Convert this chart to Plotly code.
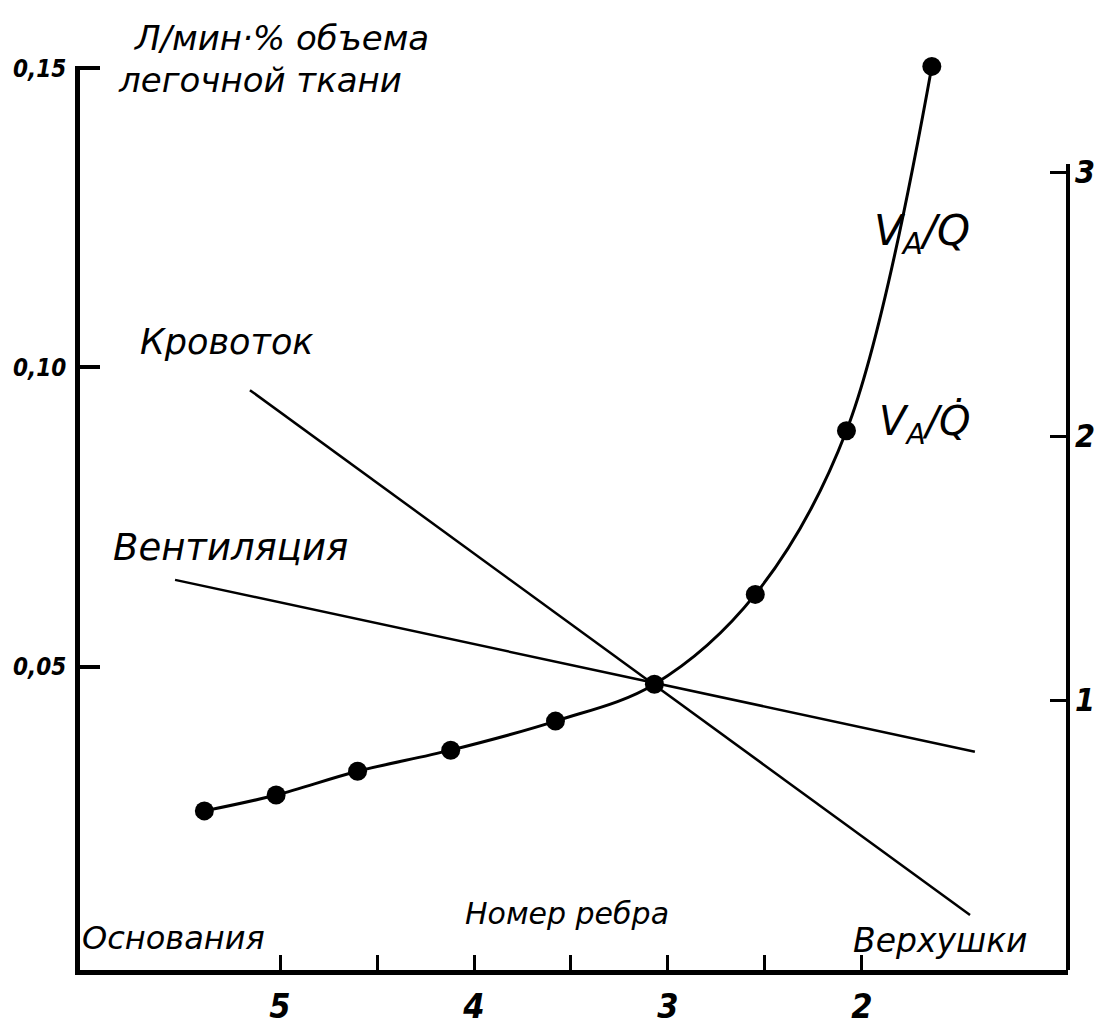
import plotly.graph_objects as go

# ---- data ----
rib_tickvals = [5, 4, 3, 2]
rib_ticktext = ["5", "4", "3", "2"]
rib_minor_tickvals = [4.5, 3.5, 2.5]

vaq_rib = [5.39, 5.02, 4.60, 4.12, 3.58, 3.07, 2.55, 2.08, 1.64]
vaq_val = [0.58, 0.64, 0.73, 0.81, 0.92, 1.06, 1.40, 2.02, 3.40]

blood_rib = [5.155, 1.443]
blood_val = [0.0962, 0.0085]

vent_rib = [5.541, 1.418]
vent_val = [0.0645, 0.0358]

left_tickvals = [0.05, 0.10, 0.15]
left_ticktext = ["0,05", "0,10", "0,15"]
right_tickvals = [1, 2, 3]
right_ticktext = ["1", "2", "3"]

# ---- layout helpers ----
W, H = 1102, 1032
ML, MR, MT, MB = 80, 34, 66, 62
PW, PH = W - ML - MR, H - MT - MB
FONT = "DejaVu Sans"
NARROW = "Liberation Sans Narrow, DejaVu Sans Condensed, DejaVu Sans"


def px(x, y):
    return (x - ML) / PW, (H - MB - y) / PH


fig = go.Figure()
fig.add_trace(go.Scatter(x=blood_rib, y=blood_val, mode="lines",
                         line=dict(color="black", width=2.5), showlegend=False))
fig.add_trace(go.Scatter(x=vent_rib, y=vent_val, mode="lines",
                         line=dict(color="black", width=2.5), showlegend=False))
fig.add_trace(go.Scatter(x=vaq_rib, y=vaq_val, mode="lines+markers", yaxis="y2",
                         line=dict(color="black", width=3, shape="spline", smoothing=1.0),
                         marker=dict(color="black", size=19), cliponaxis=False,
                         showlegend=False))

annots = [
    ("Л/мин·% объема", 131, 38, 34),
    ("легочной ткани", 116, 80, 34),
    ("Кровоток", 138, 342, 35),
    ("Вентиляция", 111, 547, 37),
    ("V<sub>A</sub>/Q", 872, 234, 42),
    ("V<sub>A</sub>/Q\u0307", 877, 424, 40),
    ("Основания", 80, 938, 32),
    ("Номер ребра", 463, 913, 30),
    ("Верхушки", 851, 940, 33),
]
for text, x, y, size in annots:
    xp, yp = px(x, y)
    fig.add_annotation(text=text, x=xp, y=yp, xref="paper", yref="paper",
                       xanchor="left", yanchor="middle", showarrow=False,
                       font=dict(family=FONT, size=size, color="black", style="italic"))

# right axis line (starts at the "3" tick)
fig.add_shape(type="line", xref="paper", yref="y2", x0=1, x1=1, y0=-0.0227, y1=3.03,
              line=dict(color="black", width=4))

fig.update_layout(
    width=W, height=H,
    margin=dict(l=ML, r=MR, t=MT, b=MB),
    paper_bgcolor="white", plot_bgcolor="white",
    xaxis=dict(range=[6.031, 0.938], tickvals=rib_tickvals, ticktext=rib_ticktext,
               ticks="inside", ticklen=15, tickwidth=3, tickcolor="black",
               minor=dict(tickvals=rib_minor_tickvals, ticks="inside", ticklen=15,
                          tickwidth=3, tickcolor="black", showgrid=False),
               showline=True, linewidth=5, linecolor="black", showgrid=False,
               zeroline=False, ticklabelstandoff=2, automargin=False,
               tickfont=dict(family=NARROW, size=34, color="black", style="italic",
                             weight="bold")),
    yaxis=dict(range=[-0.00067, 0.15035], tickvals=left_tickvals, ticktext=left_ticktext,
               ticks="inside", ticklen=20, tickwidth=4, tickcolor="black",
               showline=True, linewidth=5, linecolor="black", showgrid=False,
               zeroline=False, ticklabelstandoff=4, automargin=False,
               tickfont=dict(family=NARROW, size=24, color="black", style="italic",
                             weight="bold")),
    yaxis2=dict(range=[-0.0227, 3.4015], tickvals=right_tickvals, ticktext=right_ticktext,
                overlaying="y", side="right", anchor="x",
                ticks="inside", ticklen=18, tickwidth=3, tickcolor="black",
                showline=False, showgrid=False, zeroline=False, ticklabelstandoff=6,
                automargin=False,
                tickfont=dict(family=NARROW, size=32, color="black", style="italic",
                              weight="bold")),
)

fig.write_html("out.html")
